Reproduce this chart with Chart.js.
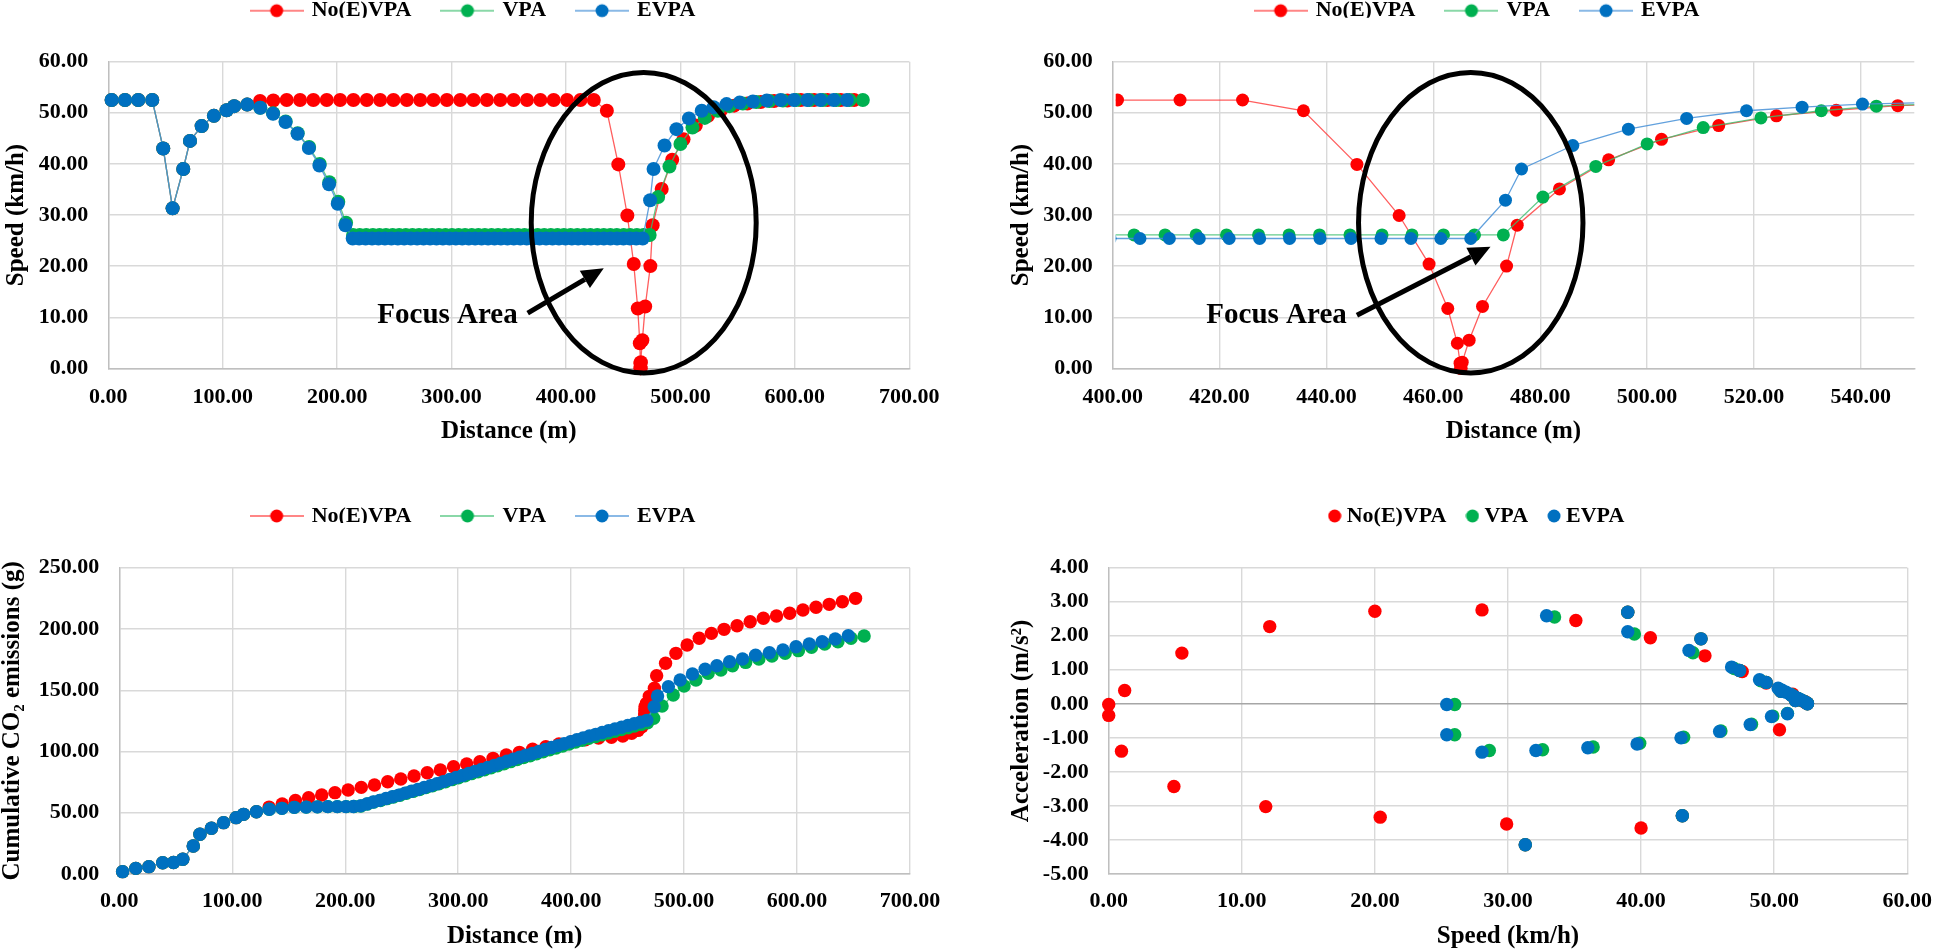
<!DOCTYPE html>
<html><head><meta charset="utf-8">
<script src="https://cdn.jsdelivr.net/npm/chart.js@4.4.1/dist/chart.umd.min.js"></script>
<style>
html,body{margin:0;padding:0;background:#fff;width:1946px;height:952px;overflow:hidden;position:relative;}
canvas{position:absolute;}
</style></head><body>
<canvas id="c1" width="960" height="460" style="left:0px;top:0px;width:960px;height:460px"></canvas>
<canvas id="c2" width="946" height="460" style="left:1000px;top:0px;width:946px;height:460px"></canvas>
<canvas id="c3" width="960" height="482" style="left:0px;top:470px;width:960px;height:482px"></canvas>
<canvas id="c4" width="946" height="482" style="left:1000px;top:470px;width:946px;height:482px"></canvas>
<script>
// ---------- DATA ----------
const seriesNames = ["No(E)VPA", "VPA", "EVPA"];

// No(E)VPA : distance (m), speed (km/h), cumulative CO2 (g)
const noevpaDist = [2.9,14.6,26.2,38.4,48.0,56.2,65.5,71.4,81.6,92.3,103.4,110.0,121.4,
 132.6,144.2,155.9,167.6,179.2,190.9,202.6,214.2,225.9,237.6,249.2,260.9,272.6,284.2,295.9,307.6,319.2,330.9,342.6,354.2,365.9,377.6,389.2,400.9,412.6,424.3,
 435.7,445.7,453.6,459.2,462.7,464.5,465.0,465.1,465.2,465.4,466.7,469.2,473.7,475.7,483.6,492.8,502.7,513.4,524.2,535.4,546.9,
 558.5,570.2,581.8,593.5,605.2,616.8,628.5,640.1,651.8];
const noevpaSpeed = [52.5,52.5,52.5,52.5,43.0,31.3,39.0,44.5,47.4,49.4,50.5,51.3,51.6,
 52.3,52.4,52.5,52.5,52.5,52.5,52.5,52.5,52.5,52.5,52.5,52.5,52.5,52.5,52.5,52.5,52.5,52.5,52.5,52.5,52.5,52.5,52.5,52.5,52.5,52.5,
 50.4,39.9,29.9,20.4,11.7,4.9,1.0,0.0,0.0,1.2,5.5,12.1,20.0,28.0,35.1,40.8,44.8,47.5,49.4,50.5,51.4,
 51.8,52.1,52.3,52.4,52.5,52.5,52.5,52.5,52.5];
const noevpaCO2 = [1.9,4.6,6.0,9.2,9.4,12.0,22.9,32.4,37.3,41.9,46.0,48.7,50.8,
 54.6,57.1,60.0,62.3,64.5,66.4,68.6,70.7,72.6,75.3,77.5,80.0,82.7,84.9,87.6,89.8,91.7,94.4,97.1,99.3,101.8,103.9,106.1,108.0,109.5,111.0,
 111.6,112.6,114.8,117.2,120.2,124.0,127.5,130.5,133.5,136.5,139.3,145.0,151.6,161.8,172.0,180.1,186.9,192.4,196.4,199.7,202.6,
 205.9,208.7,210.6,212.8,215.5,217.7,220.1,222.2,225.0];

// VPA
const vpaDist = [2.9,14.6,26.2,38.4,48.0,56.2,65.5,71.4,81.6,92.3,103.4,110.0,121.4,
 132.8,144.0,155.0,165.5,175.5,184.8,193.2,201.0,207.8,
 213.9,219.7,225.4,231.2,237.0,242.7,248.5,254.2,260.0,265.8,271.5,277.3,283.0,288.8,294.6,300.3,306.1,311.8,317.6,323.4,
 329.1,334.9,340.6,346.4,352.2,357.9,363.7,369.4,375.2,381.0,386.7,392.5,398.2,404.0,409.8,415.6,421.3,427.3,433.0,438.7,
 444.4,450.4,456.0,461.9,467.7,473.1,
 480.5,490.4,500.0,510.5,521.3,532.6,542.9,554.5,566.2,577.8,589.5,601.2,612.8,624.5,636.2,647.8,659.4];
const vpaSpeed = [52.5,52.5,52.5,52.5,43.0,31.3,39.0,44.5,47.4,49.4,50.5,51.3,51.6,
 51.0,49.9,48.3,46.0,43.3,40.0,36.4,32.6,28.5,
 26.1,26.1,26.1,26.1,26.1,26.1,26.1,26.1,26.1,26.1,26.1,26.1,26.1,26.1,26.1,26.1,26.1,26.1,26.1,26.1,
 26.1,26.1,26.1,26.1,26.1,26.1,26.1,26.1,26.1,26.1,26.1,26.1,26.1,26.1,26.1,26.1,26.1,26.1,26.1,26.1,
 26.1,26.1,26.1,26.1,26.1,26.1,
 33.5,39.5,43.9,47.1,49.0,50.4,51.3,51.8,52.1,52.3,52.4,52.5,52.5,52.5,52.5,52.5,52.5];
const vpaCO2 = [1.9,4.6,6.0,9.2,9.4,12.0,22.9,32.4,37.3,41.9,46.0,48.7,50.8,
 52.8,53.6,54.4,54.6,54.8,55.0,55.0,55.0,55.1,
 55.5,57.1,58.7,60.0,61.5,62.9,64.3,65.9,67.4,68.9,70.5,72.0,73.6,75.3,77.0,78.6,80.2,81.9,83.5,85.1,
 86.7,88.4,90.0,91.7,93.4,95.0,96.5,98.1,99.7,101.3,102.9,104.5,106.1,107.7,109.2,110.7,112.1,113.6,115.1,116.5,
 117.9,119.3,120.7,122.1,123.5,127.1,
 137.1,146.1,153.4,158.3,163.8,166.5,170.0,172.7,175.5,177.9,180.1,182.3,185.0,187.7,189.6,192.4,194.2];

// EVPA
const evpaDist = [2.9,14.6,26.2,38.4,48.0,56.2,65.5,71.4,81.6,92.3,103.4,110.0,121.4,
 132.8,144.0,154.9,165.4,175.3,184.5,192.9,200.5,207.2,
 213.6,219.2,224.8,230.5,236.1,241.7,247.4,253.0,258.6,264.3,269.9,275.5,281.2,286.8,292.4,298.1,303.7,309.3,315.0,320.6,
 326.2,331.9,337.5,343.1,348.8,354.4,360.0,365.7,371.3,376.9,382.6,388.2,393.8,399.5,405.1,410.6,416.2,421.8,427.5,433.1,
 438.8,444.6,450.2,455.8,461.4,467.0,
 473.5,476.5,486.1,496.5,507.4,518.6,529.0,540.3,551.7,563.3,575.5,587.5,599.1,610.8,622.2,633.8,645.4];
const evpaSpeed = [52.5,52.5,52.5,52.5,43.0,31.3,39.0,44.5,47.4,49.4,50.5,51.3,51.6,
 51.0,49.8,48.2,45.9,43.1,39.7,36.0,32.2,28.0,
 25.4,25.4,25.4,25.4,25.4,25.4,25.4,25.4,25.4,25.4,25.4,25.4,25.4,25.4,25.4,25.4,25.4,25.4,25.4,25.4,
 25.4,25.4,25.4,25.4,25.4,25.4,25.4,25.4,25.4,25.4,25.4,25.4,25.4,25.4,25.4,25.4,25.4,25.4,25.4,25.4,
 25.4,25.4,25.4,25.4,25.4,25.4,
 32.9,39.0,43.6,46.8,48.9,50.4,51.1,51.7,52.0,52.2,52.4,52.5,52.5,52.5,52.5,52.5,52.5];
const evpaCO2 = [1.9,4.6,6.0,9.2,9.4,12.0,22.9,32.4,37.3,41.9,46.0,48.7,50.8,
 52.8,53.6,54.4,54.6,54.8,55.0,55.0,55.0,55.1,
 55.6,57.2,58.8,60.1,61.6,63.0,64.4,66.0,67.5,69.0,70.6,72.1,73.7,75.4,77.1,78.8,80.4,82.1,83.8,85.3,
 87.0,88.6,90.3,92.0,93.7,95.3,96.9,98.4,100.0,101.6,103.2,104.8,106.4,108.0,109.6,111.1,112.6,114.0,115.5,117.0,
 118.4,119.8,121.2,122.6,124.0,125.4,
 136.5,145.3,152.9,158.3,163.2,167.1,170.0,173.3,175.5,178.5,180.6,182.8,185.5,187.7,189.6,191.8,194.5];

// Speed (km/h) vs acceleration (m/s2) scatter
const noevpaAccSpeed = [52.5,43.1,31.3,39.0,44.5,47.4,49.4,50.5,51.3,51.6,52.3,52.5,50.4,40.0,29.9,20.4,11.8,4.9,0.96,0.0,0.0,1.2,5.5,12.1,20.0,28.05,35.1,40.7,44.8,47.6,49.4,50.5,51.4,51.8,52.1,52.3,52.4];
const noevpaAcc      = [0.0,-3.29,-4.14,2.69,1.91,0.98,0.63,0.37,0.25,0.10,0.07,0.02,-0.76,-3.65,-3.53,-3.33,-3.02,-2.43,-1.39,-0.02,-0.34,0.39,1.49,2.27,2.72,2.76,2.45,1.94,1.41,0.95,0.61,0.40,0.28,0.15,0.09,0.05,0.03];
const vpaAccSpeed = [52.5,43.1,31.3,39.0,44.5,47.4,49.4,50.5,51.3,51.6,51.0,49.9,48.3,46.0,43.2,39.9,36.4,32.6,28.6,26.0,26.0,33.5,39.5,43.9,47.0,49.0,50.4,51.3,51.8,52.1,52.3,52.5];
const vpaAcc      = [0.0,-3.29,-4.14,2.69,1.91,0.98,0.63,0.37,0.25,0.10,-0.28,-0.36,-0.60,-0.80,-0.98,-1.16,-1.27,-1.35,-1.37,-0.91,-0.02,2.55,2.05,1.50,1.04,0.68,0.42,0.27,0.16,0.10,0.06,0.02];
const evpaAccSpeed = [52.5,43.1,31.3,39.0,44.5,47.4,49.4,50.5,51.3,51.6,51.0,49.8,48.2,45.9,43.0,39.7,36.0,32.1,28.05,25.4,25.4,32.9,39.0,43.6,46.8,48.9,50.3,50.6,50.9,51.2,51.5,51.8,52.0,52.2,52.4,52.5];
const evpaAcc      = [0.0,-3.29,-4.14,2.69,1.91,0.98,0.63,0.37,0.25,0.10,-0.29,-0.37,-0.61,-0.81,-1.00,-1.18,-1.29,-1.37,-1.42,-0.91,-0.02,2.59,2.12,1.57,1.08,0.71,0.46,0.40,0.34,0.28,0.22,0.16,0.12,0.08,0.04,0.01];

// axis tick settings
const speedAxis = {min: 0, max: 60, step: 10};
const distAxisFull = {min: 0, max: 700, step: 100};
const distAxisZoom = {min: 400, max: 550, step: 20};
const co2Axis = {min: 0, max: 250, step: 50};
const accAxis = {min: -5, max: 4, step: 1};

// ---------- STYLE ----------
const markerColors = ["#FF0000", "#00B050", "#0070C0"];
const lineColors = ["rgba(255,40,40,0.75)", "rgba(60,190,110,0.8)", "rgba(70,145,215,0.85)"];
const FAM = '"Liberation Serif","Times New Roman",serif';
const tickFont = {family: FAM, size: 22, weight: 'bold'};
const titleFont = {family: FAM, size: 25, weight: 'bold', lineHeight: 1};
const legendFont = {family: FAM, size: 22, weight: 'bold'};

function zip(xs, ys) { return xs.map((x, i) => ({x: x, y: ys[i]})); }

function icon(color, lineColor, withLine, r) {
  const c = document.createElement('canvas');
  c.width = withLine ? 54 : 14; c.height = 16;
  const g = c.getContext('2d');
  if (withLine) { g.strokeStyle = lineColor; g.lineWidth = 1.6; g.beginPath(); g.moveTo(0, 8); g.lineTo(54, 8); g.stroke(); }
  g.fillStyle = color; g.beginPath(); g.arc(c.width / 2, 8, r, 0, Math.PI * 2); g.fill();
  return c;
}

const legendPos = {
  id: 'legendPos',
  afterLayout(chart, args, o) {
    const L = chart.legend; if (!L || o.cx == null) return;
    const w = L.right - L.left, h = L.bottom - L.top;
    L.left = o.cx - w / 2; L.right = L.left + w;
    L.top = o.cy - o.pad - 11; L.bottom = L.top + h;
  }
};

const focusPlugin = {
  id: 'focus',
  afterDatasetsDraw(chart, args, o) {
    if (!o || !o.ellipse) return;
    const xs = chart.scales.x, ys = chart.scales.y, ctx = chart.ctx;
    const e = o.ellipse;
    const cx = xs.getPixelForValue(e.x), cy = ys.getPixelForValue(e.y);
    const rx = Math.abs(xs.getPixelForValue(e.x + e.rx) - cx);
    const ry = Math.abs(ys.getPixelForValue(e.y + e.ry) - cy);
    ctx.save();
    ctx.strokeStyle = '#000'; ctx.fillStyle = '#000'; ctx.lineWidth = 5;
    ctx.beginPath(); ctx.ellipse(cx, cy, rx, ry, 0, 0, Math.PI * 2); ctx.stroke();
    const a = o.arrow;
    const x1 = xs.getPixelForValue(a.x1), y1 = ys.getPixelForValue(a.y1);
    const x2 = xs.getPixelForValue(a.x2), y2 = ys.getPixelForValue(a.y2);
    const ang = Math.atan2(y2 - y1, x2 - x1), hl = 22, hw = 10;
    const bx = x2 - hl * Math.cos(ang), by = y2 - hl * Math.sin(ang);
    ctx.beginPath(); ctx.moveTo(x1, y1); ctx.lineTo(bx, by); ctx.stroke();
    ctx.beginPath(); ctx.moveTo(x2, y2);
    ctx.lineTo(bx - hw * Math.sin(ang), by + hw * Math.cos(ang));
    ctx.lineTo(bx + hw * Math.sin(ang), by - hw * Math.cos(ang));
    ctx.closePath(); ctx.fill();
    ctx.font = 'bold 29px ' + FAM; ctx.textAlign = 'right'; ctx.textBaseline = 'middle';
    ctx.fillText(o.text.label, xs.getPixelForValue(o.text.x), ys.getPixelForValue(o.text.y));
    ctx.restore();
  }
};

function axis(range, o) {
  return {
    type: 'linear', min: range.min, max: range.max,
    ticks: {stepSize: range.step, font: tickFont, color: '#000', padding: o.tickPad,
            includeBounds: o.includeBounds !== false, autoSkip: false, maxRotation: 0,
            callback: v => Number(v).toFixed(2)},
    grid: {color: o.gridColor || '#D9D9D9', lineWidth: 1.4, drawTicks: false},
    border: {color: '#BFBFBF', width: 1.4},
    title: {display: true, text: o.title, font: titleFont, color: '#000', padding: o.titlePad},
    afterFit: s => { if (o.w != null) s.width = o.w; if (o.h != null) s.height = o.h; }
  };
}

function makeChart(id, cfg) {
  const lineMode = cfg.showLine;
  const datasets = cfg.series.map((s, i) => ({
    label: seriesNames[i], data: s, showLine: lineMode,
    borderColor: lineColors[i], borderWidth: 1.3,
    backgroundColor: markerColors[i], pointBackgroundColor: markerColors[i],
    pointBorderWidth: 0, pointRadius: cfg.r, pointStyle: 'circle',
    order: 3 - i, clip: cfg.clip
  }));
  const icons = markerColors.map((c, i) => icon(c, lineColors[i], lineMode, 6.5));
  return new Chart(document.getElementById(id), {
    type: 'scatter',
    data: {datasets},
    options: {
      responsive: false, animation: false, devicePixelRatio: 1, events: [],
      layout: {padding: cfg.padding},
      plugins: {
        tooltip: {enabled: false},
        legend: {
          display: true, position: 'top', maxHeight: 50,
          labels: {
            usePointStyle: true, pointStyleWidth: lineMode ? 48 : 2,
            padding: cfg.legPad, font: legendFont, color: '#000',
            generateLabels: ch => ch.data.datasets.map((d, i) => ({
              text: d.label, pointStyle: icons[i], fillStyle: markerColors[i],
              strokeStyle: 'rgba(0,0,0,0)', lineWidth: 0, hidden: false, datasetIndex: i, fontColor: '#000'
            }))
          }
        },
        legendPos: {cx: cfg.legX, cy: cfg.legY, pad: cfg.legPad},
        focus: cfg.focus || {}
      },
      scales: {
        x: axis(cfg.xr, {title: cfg.xTitle, tickPad: cfg.xTickPad, titlePad: {top: 0, bottom: cfg.xtp}, h: cfg.xh, includeBounds: cfg.xBounds}),
        y: axis(cfg.yr, {title: cfg.yTitle, tickPad: 20, titlePad: {top: cfg.ytp, bottom: 0}, w: cfg.yw, gridColor: cfg.yGrid})
      }
    },
    plugins: [legendPos, focusPlugin]
  });
}

const speedSeries = [zip(noevpaDist, noevpaSpeed), zip(vpaDist, vpaSpeed), zip(evpaDist, evpaSpeed)];
const co2Series = [zip(noevpaDist, noevpaCO2), zip(vpaDist, vpaCO2), zip(evpaDist, evpaCO2)];
const accSeries = [zip(noevpaAccSpeed, noevpaAcc), zip(vpaAccSpeed, vpaAcc), zip(evpaAccSpeed, evpaAcc)];

// Top-left: speed vs distance (full)
makeChart('c1', {
  series: speedSeries, showLine: true, r: 7, clip: false,
  padding: {left: 0, right: 50.7, top: 11.7, bottom: 0},
  legX: 474, legY: 10.7, legPad: 32,
  xr: distAxisFull, yr: speedAxis, xTitle: 'Distance (m)', yTitle: 'Speed (km/h)',
  xh: 91.7, xtp: 15.5, xTickPad: 16, yw: 108.3, ytp: 4.5,
  focus: {ellipse: {x: 467.9, y: 28.5, rx: 98.3, ry: 29.4},
          arrow: {x1: 366.5, y1: 10.8, x2: 433, y2: 19.6},
          text: {x: 357.8, y: 10.4, label: 'Focus Area'}}
});
// Top-right: speed vs distance (zoom)
makeChart('c2', {
  series: speedSeries, showLine: true, r: 6.5, clip: {left: -3, right: 0, top: 10, bottom: 10},
  padding: {left: 0, right: 31.7, top: 11.7, bottom: 0},
  legX: 478, legY: 10.7, legPad: 32,
  xr: distAxisZoom, yr: speedAxis, xTitle: 'Distance (m)', yTitle: 'Speed (km/h)', xBounds: false,
  xh: 91.7, xtp: 15.5, xTickPad: 16, yw: 112.7, ytp: 9.2,
  focus: {ellipse: {x: 467.0, y: 28.5, rx: 21.0, ry: 29.4},
          arrow: {x1: 445.7, y1: 10.4, x2: 470.7, y2: 23.8},
          text: {x: 443.8, y: 10.4, label: 'Focus Area'}}
});
// Bottom-left: cumulative CO2
makeChart('c3', {
  series: co2Series, showLine: true, r: 6.7, clip: false,
  padding: {left: 0, right: 50, top: 47.7, bottom: 0},
  legX: 474, legY: 46, legPad: 32,
  xr: distAxisFull, yr: co2Axis, xTitle: 'Distance (m)', yTitle: 'Cumulative CO\u2082 emissions (g)',
  xh: 78, xtp: 2.5, xTickPad: 14, yw: 119.3, ytp: 0
});
// Bottom-right: acceleration vs speed
makeChart('c4', {
  series: accSeries, showLine: false, r: 6.7, clip: false,
  padding: {left: 0, right: 26.7, top: 47.7, bottom: 0},
  legX: 479, legY: 46, legPad: 25,
  xr: {min: 0, max: 60, step: 10}, yr: accAxis, xTitle: 'Speed (km/h)', yTitle: 'Acceleration (m/s\u00B2)',
  xh: 78, xtp: 2.5, xTickPad: 14, yw: 108.7, ytp: 9.2,
  yGrid: c => (c.tick && c.tick.value === 0) ? '#A6A6A6' : '#D9D9D9'
});
</script>
</body></html>
